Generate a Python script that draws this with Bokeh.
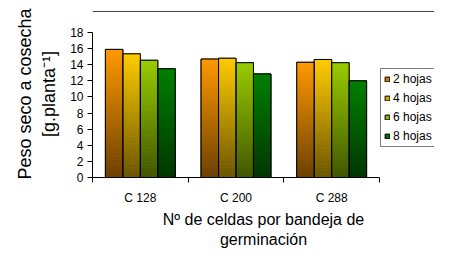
from bokeh.plotting import figure
from bokeh.models import (Range1d, FixedTicker, Legend, LegendItem,
                          ColumnDataSource, Span)
from bokeh.embed import file_html
from bokeh.resources import INLINE

# ---- data ----
categories = ["C 128", "C 200", "C 288"]
series = ["2 hojas", "4 hojas", "6 hojas", "8 hojas"]
hojas2 = [15.9, 14.7, 14.3]
hojas4 = [15.35, 14.8, 14.65]
hojas6 = [14.55, 14.25, 14.25]
hojas8 = [13.5, 12.85, 12.0]
y_ticks = [0, 2, 4, 6, 8, 10, 12, 14, 16, 18]

values = [hojas2, hojas4, hojas6, hojas8]
top_colors = [(255, 153, 0), (255, 204, 0), (153, 204, 0), (0, 128, 0)]
legend_colors = ["#D07800", "#D4A800", "#88B000", "#006A00"]
FONT = "Liberation Sans"

def hexc(rgb):
    return "#%02x%02x%02x" % tuple(int(round(c)) for c in rgb)

def mix(a, b, t):
    return tuple(a[i] + (b[i] - a[i]) * t for i in range(3))

p = figure(width=434, height=252, x_range=Range1d(0, 3.575), y_range=Range1d(0, 20.73),
           output_backend="svg", toolbar_location=None,
           min_border_left=92, min_border_right=0, min_border_top=10,
           min_border_bottom=75)
p.outline_line_color = None
p.xgrid.visible = False
p.ygrid.visible = False
p.background_fill_color = "white"
p.border_fill_color = "white"

bar_w = 0.1825
N = 36

# solid series bars (also used for the legend), covered by the gradient below
items = []
for j, vals in enumerate(values):
    off = (j - 1.5) * bar_w
    xs = [i + 0.5 + off for i in range(len(vals))]
    r = p.quad(left=[x - bar_w / 2 for x in xs], right=[x + bar_w / 2 for x in xs],
               bottom=0, top=vals, fill_color=legend_colors[j],
               line_color="black", line_width=1)
    items.append(LegendItem(label=series[j], renderers=[r]))

# gradient shading of each bar
slices = dict(left=[], right=[], bottom=[], top=[], color=[])
outline = dict(left=[], right=[], top=[])
for j, vals in enumerate(values):
    off = (j - 1.5) * bar_w
    topc = top_colors[j]
    botc = tuple(c * 0.42 for c in topc)
    for i, v in enumerate(vals):
        xc = i + 0.5 + off
        l, r = xc - bar_w / 2, xc + bar_w / 2
        for k in range(N):
            slices["left"].append(l)
            slices["right"].append(r)
            slices["bottom"].append(v * k / N)
            slices["top"].append(v * (k + 1) / N)
            slices["color"].append(hexc(mix(botc, topc, (k + 0.5) / N)))
        outline["left"].append(l)
        outline["right"].append(r)
        outline["top"].append(v)

p.quad(left="left", right="right", bottom="bottom", top="top",
       fill_color="color", line_color="color", line_width=0.6,
       source=ColumnDataSource(slices))
p.quad(left="left", right="right", bottom=0, top="top", fill_alpha=0,
       line_color="black", line_width=1, source=ColumnDataSource(outline))

# top rule of the page
p.add_layout(Span(location=20.61, dimension="width", line_color="#404040", line_width=1))

# y axis
ya = p.yaxis[0]
ya.ticker = FixedTicker(ticks=y_ticks)
ya.bounds = (0, 18)
ya.major_tick_out = 5
ya.major_tick_in = 0
ya.minor_tick_out = 0
ya.minor_tick_in = 0
ya.major_label_standoff = 4
ya.axis_line_color = "black"
ya.major_tick_line_color = "black"
ya.major_label_text_font = FONT
ya.major_label_text_font_size = "12px"
ya.major_label_text_color = "black"
ya.axis_label = "Peso seco a cosecha\n[g.planta\u207b\u00b9]"
ya.axis_label_standoff = 8
ya.axis_label_text_font = FONT
ya.axis_label_text_font_size = "18px"
ya.axis_label_text_font_style = "normal"
ya.axis_label_text_color = "black"

# x axis
xa = p.xaxis[0]
xa.ticker = FixedTicker(ticks=[0.5, 1.5, 2.5], minor_ticks=[0, 1, 2, 3])
xa.bounds = (0, 3)
xa.major_label_overrides = {0.5: categories[0], 1.5: categories[1], 2.5: categories[2]}
xa.major_tick_out = 0
xa.major_tick_in = 0
xa.minor_tick_out = 5
xa.minor_tick_in = 0
xa.minor_tick_line_color = "black"
xa.axis_line_color = "black"
xa.major_label_standoff = 8
xa.major_label_text_font = FONT
xa.major_label_text_font_size = "12px"
xa.major_label_text_color = "black"
xa.axis_label = "N\u00ba de celdas por bandeja de\ngerminaci\u00f3n"
xa.axis_label_standoff = 3
xa.axis_label_text_font = FONT
xa.axis_label_text_font_size = "16px"
xa.axis_label_text_font_style = "normal"
xa.axis_label_text_color = "black"

# legend (inside the frame, right of the bars)
legend = Legend(items=items, location=(288, 30), orientation="vertical",
                label_text_font=FONT, label_text_font_size="12px",
                label_text_color="black", label_height=13, label_standoff=3,
                glyph_width=6, glyph_height=6, spacing=5, padding=3, margin=0,
                border_line_color="black", border_line_width=1,
                background_fill_color="white", background_fill_alpha=1)
p.add_layout(legend, "center")

open("out.html", "w").write(file_html(p, INLINE))
